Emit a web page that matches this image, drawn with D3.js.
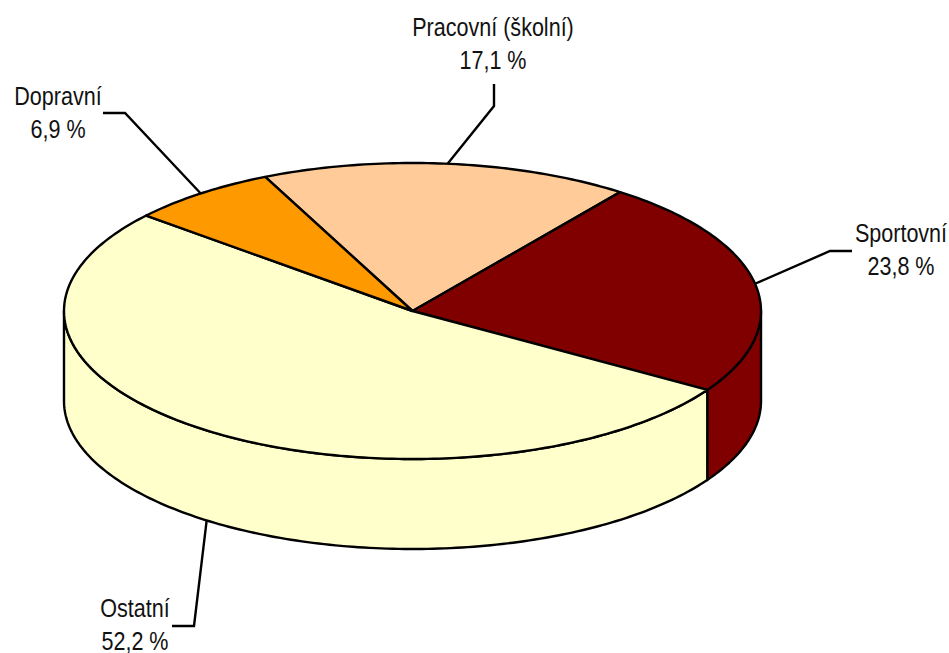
<!DOCTYPE html>
<html><head><meta charset="utf-8">
<script src="https://cdn.jsdelivr.net/npm/d3@7"></script>
<style>html,body{margin:0;padding:0;background:#fff}svg{display:block}text{font-family:"Liberation Sans",Arial,sans-serif;font-size:25.5px;fill:#111}</style>
</head><body><svg id="c" width="949" height="653"></svg>
<script>
const categories = ["Pracovní (školní)", "Sportovní", "Ostatní", "Dopravní"];
const shares = [17.1, 23.8, 52.2, 6.9];
const shareLabels = ["17,1 %", "23,8 %", "52,2 %", "6,9 %"];
const colors = ["#FFCC99", "#800000", "#FFFFCC", "#FF9900"];

const cx = 412.5, cy = 311, rx = 348.5, ry = 148, depth = 90;
const startDeg = -25;
const labelLayout = [
  {x:493, y:36, el:[494,106], end:[494,84]},
  {x:901, y:242, el:[830,251], end:[852,251]},
  {x:135, y:617, el:[194,626], end:[172,626]},
  {x:58,  y:105, el:[125,113], end:[103,113]}
];

const X = d3.scaleLinear().domain([-1,1]).range([cx-rx,cx+rx]);
const Y = d3.scaleLinear().domain([-1,1]).range([cy-ry,cy+ry]);
const svg = d3.select("#c");
const pie = d3.pie().sort(null).startAngle(startDeg*Math.PI/180).endAngle((startDeg+360)*Math.PI/180);
const arcs = pie(shares);
const pt = (a,dz=0)=>[X(Math.sin(a)), Y(-Math.cos(a))+dz];
const sample = (a0,a1,dz=0)=>{const n=Math.max(2,Math.ceil(Math.abs(a1-a0)*60));
  return d3.range(n+1).map(i=>pt(a0+(a1-a0)*i/n,dz));};
const line = d3.line();
const sw = 2.4;

// side walls (only the front half of the rim is visible)
const frontA = Math.PI/2, frontB = 3*Math.PI/2;
arcs.forEach(d=>{
  [0,2*Math.PI].forEach(off=>{
    const a0 = Math.max(d.startAngle+off,frontA), a1 = Math.min(d.endAngle+off,frontB);
    if(a1<=a0) return;
    const top = sample(a0,a1), bot = sample(a0,a1,depth).reverse();
    svg.append("path").attr("d",line(top.concat(bot))+"Z")
      .attr("fill",colors[d.index]).attr("stroke","#000").attr("stroke-width",sw).attr("stroke-linejoin","round");
  });
});
// top face
arcs.forEach(d=>{
  const pts = [[X(0),Y(0)]].concat(sample(d.startAngle,d.endAngle));
  svg.append("path").attr("d",line(pts)+"Z")
    .attr("fill",colors[d.index]).attr("stroke","#000").attr("stroke-width",sw).attr("stroke-linejoin","round");
});
// leaders and labels
arcs.forEach(d=>{
  const mid=(d.startAngle+d.endAngle)/2, c=Math.cos(mid);
  const anchor = pt(mid, c<0 ? depth : 0), L = labelLayout[d.index];
  svg.append("path").attr("d",line([anchor,L.el,L.end])).attr("fill","none")
    .attr("stroke","#000").attr("stroke-width",sw);
  const t = svg.append("g").attr("transform",`translate(${L.x},${L.y}) scale(0.845,1)`);
  t.append("text").attr("text-anchor","middle").text(categories[d.index]);
  t.append("text").attr("text-anchor","middle").attr("y",33.5).text(shareLabels[d.index]);
});
</script></body></html>
